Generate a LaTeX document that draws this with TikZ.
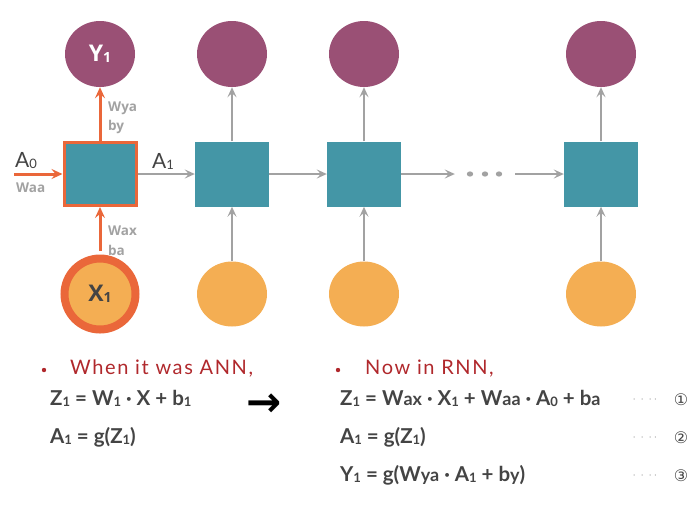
\documentclass[tikz,border=0pt]{standalone}
\usepackage{fontspec}
\setmainfont{Lato}
\newfontfamily\symfont{DejaVu Sans}
\newfontfamily\osfont{Open Sans}
\newfontfamily\redfont{Lato}[LetterSpace=8]
\usetikzlibrary{shapes.geometric,arrows.meta}
\definecolor{cpurple}{HTML}{9A5075}
\definecolor{cteal}{HTML}{4496A6}
\definecolor{cyel}{HTML}{F4AE53}
\definecolor{corange}{HTML}{EA673A}
\definecolor{cgray}{HTML}{A2A2A2}
\definecolor{ctext}{HTML}{444444}
\definecolor{cred}{HTML}{B0282C}
\newcommand\sbx[1]{\raisebox{-0.1ex}{\fontsize{13}{13}\selectfont #1}}
\newcommand\sbw[1]{{\fontsize{18}{18}\selectfont #1}}
\newcommand\md{\ ·\ }
\tikzset{
  outnode/.style={ellipse,fill=cpurple,minimum width=70pt,minimum height=66pt,inner sep=0pt},
  innode/.style={ellipse,fill=cyel,minimum width=70pt,minimum height=65pt,inner sep=0pt},
  cellbox/.style={rectangle,fill=cteal,minimum width=74pt,minimum height=65pt,inner sep=0pt},
  garrow/.style={draw=cgray,line width=2.2pt,-{Stealth[length=10pt,width=9pt,inset=4pt]}},
  oarrow/.style={draw=corange,line width=3pt,-{Stealth[length=11pt,width=10pt,inset=4pt]}},
  wlabel/.style={text=cgray,font=\osfont\bfseries\fontsize{13.5}{14}\selectfont,inner sep=0pt},
  eqtext/.style={text=ctext,font=\bfseries\fontsize{20.5}{22}\selectfont,inner sep=0pt,anchor=base west},
  titletext/.style={text=cred,font=\redfont\fontsize{20}{22}\selectfont,inner sep=0pt,anchor=base west},
  numtext/.style={text=ctext,font=\symfont\fontsize{16}{18}\selectfont,inner sep=0pt},
  dotstext/.style={text=cgray,font=\fontsize{12}{12}\selectfont,inner sep=0pt},
}
\begin{document}
\begin{tikzpicture}[x=1pt,y=-1pt]
\useasboundingbox (0,0) rectangle (700,520);
% column 1
\node[outnode] (y1) at (100,54) {\textcolor{white}{\osfont\bfseries\fontsize{23}{24}\selectfont Y\sbx{\fontsize{14}{14}\selectfont 1}}};
\node[cellbox,draw=corange,line width=3pt,minimum width=72pt,minimum height=63pt] (c1) at (100,174) {};
\node[innode,circle,minimum size=71pt,draw=corange,line width=8pt] (x1) at (100,294) {\textcolor{ctext}{\osfont\bfseries\fontsize{23}{24}\selectfont X\sbx{\fontsize{14}{14}\selectfont 1}}};
% other columns
\foreach \n/\x in {2/232,3/364,4/601}{
  \node[outnode] (y\n) at (\x,54) {};
  \node[cellbox] (c\n) at (\x,174) {};
  \node[innode] (x\n) at (\x,294) {};
}
\node[minimum width=60pt,minimum height=10pt,inner sep=0pt] (dots) at (485,174) {};
\foreach \dx in {-15,0,14}{
  \fill[cgray] ([xshift=\dx pt]dots.center) ellipse (3.2pt and 2.6pt);
}
% gray arrows
\foreach \n in {2,3,4}{
  \draw[garrow] (x\n) -- (c\n);
  \draw[garrow] (c\n) -- (y\n);
}
\draw[garrow] (c1) -- (c2);
\draw[garrow] (c2) -- (c3);
\draw[garrow] (c3) -- (dots);
\draw[garrow] (dots) -- (c4);
% orange arrows
\coordinate (a0) at (14,174);
\draw[oarrow] ([yshift=4pt]x1.north) -- (c1.south);
\draw[oarrow] (c1.north) -- (y1.south);
\draw[oarrow] (a0) -- (c1.west);
% labels
\node[text=ctext,font=\fontsize{21}{22}\selectfont,inner sep=0pt,anchor=base west] (la0) at (15,167) {A\sbx{\fontsize{13}{13}\selectfont 0}};
\node[text=ctext,font=\fontsize{21}{22}\selectfont,inner sep=0pt,anchor=base west] (la1) at (152,168) {A\sbx{\fontsize{13}{13}\selectfont 1}};
\node[wlabel,anchor=west] (lwaa) at (16,188) {Waa};
\node[wlabel,anchor=west] (lwya) at (108,108) {Wya};
\node[wlabel,anchor=west] (lby) at (108,127) {by};
\node[wlabel,anchor=west] (lwax) at (108,231) {Wax};
\node[wlabel,anchor=west] (lba) at (108,250) {ba};
% text left
\fill[cred] (44,370) circle (2.2pt);
\node[titletext] (t1) at (70,374) {When it was ANN,};
\node[eqtext] (e1) at (50,405) {Z\sbx{1} = W\sbx{1}\md X + b\sbx{1}};
\node[eqtext] (e2) at (50,443) {A\sbx{1} = g(Z\sbx{1})};
\node[text=black,font=\symfont\bfseries\fontsize{42}{42}\selectfont,inner sep=0pt] (arr) at (264,405) {→};
% text right
\fill[cred] (338,370) circle (2.2pt);
\node[titletext] (t2) at (365,374) {Now in RNN,};
\node[eqtext] (e3) at (340,405) {Z\sbx{1} = W\sbw{ax}\md X\sbx{1} + W\sbw{aa}\md A\sbx{0} + b\sbw{a}};
\node[eqtext] (e4) at (340,443) {A\sbx{1} = g(Z\sbx{1})};
\node[eqtext] (e5) at (340,481) {Y\sbx{1} = g(W\sbw{ya}\md A\sbx{1} + b\sbw{y})};
\foreach \yy in {400,438,476}{
  \node[dotstext] at (645,\yy) {$\cdot\,\cdot\,\cdot\,\cdot$};
}
\node[numtext] (n1) at (681,400) {①};
\node[numtext] (n2) at (681,438) {②};
\node[numtext] (n3) at (681,476) {③};
\end{tikzpicture}
\end{document}
